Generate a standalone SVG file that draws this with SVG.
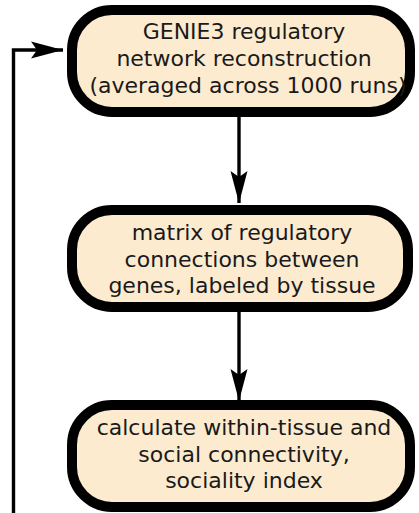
<svg xmlns="http://www.w3.org/2000/svg" width="419" height="513" viewBox="0 0 419 513">
<style>
.box{fill:#fdebd0;stroke:#000;stroke-width:10}
.t{font-family:"DejaVu Sans",sans-serif;font-size:22px;fill:#1a1a1a;text-anchor:middle}
.c{fill:none;stroke:#000;stroke-width:3.4}
</style>
<defs>
<marker id="ah" markerUnits="userSpaceOnUse" viewBox="-33 -10 34 20" refX="0" refY="0" markerWidth="34" markerHeight="20" orient="auto">
<path d="M0,0 L-32,-8.5 L-26,0 L-32,8.5 Z" fill="#000"/>
</marker>
</defs>
<g id="connectors">
<path class="c" d="M239,114 V203" marker-end="url(#ah)"/>
<path class="c" d="M239,310 V401" marker-end="url(#ah)"/>
<path class="c" d="M13.5,513 V50 H63" marker-end="url(#ah)"/>
</g>
<g id="node1">
<rect class="box" x="72" y="10" width="338" height="102" rx="40"/>
<text class="t" x="244" y="39">GENIE3 regulatory</text>
<text class="t" x="244" y="66">network reconstruction</text>
<text class="t" x="248" y="93">(averaged across 1000 runs)</text>
</g>
<g id="node2">
<rect class="box" x="72" y="210" width="336" height="97" rx="40"/>
<text class="t" x="242" y="240">matrix of regulatory</text>
<text class="t" x="242" y="267">connections between</text>
<text class="t" x="242" y="293">genes, labeled by tissue</text>
</g>
<g id="node3">
<rect class="box" x="72" y="405" width="338" height="102" rx="40"/>
<text class="t" x="244" y="435">calculate within-tissue and</text>
<text class="t" x="244" y="462">social connectivity,</text>
<text class="t" x="244" y="488">sociality index</text>
</g>
</svg>
